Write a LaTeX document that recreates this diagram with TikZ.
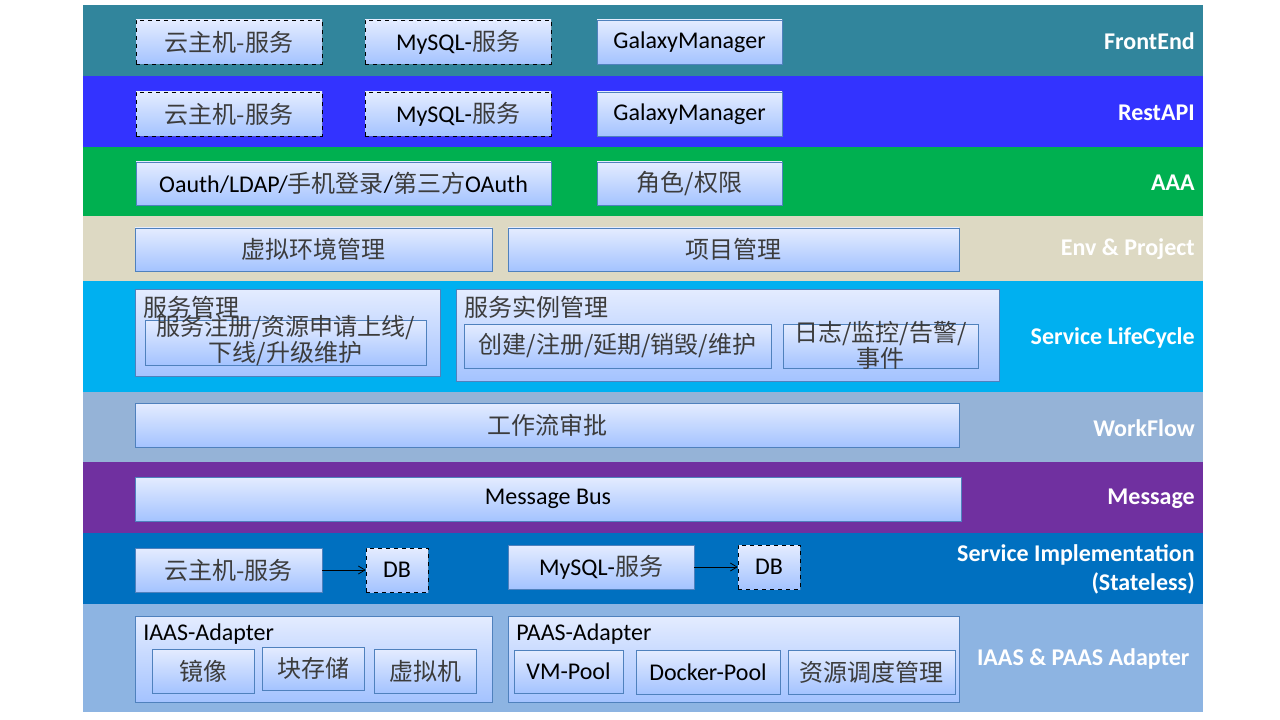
\documentclass[tikz,border=0pt]{standalone}
\usepackage{fontspec}
\setmainfont{Carlito}
\newfontfamily\cjk{Noto Sans CJK SC}
\usetikzlibrary{shadows, arrows.meta}

\def\px{0.75pt}
\definecolor{bandfront}{RGB}{49, 133, 156}
\definecolor{bandrest}{RGB}{51, 51, 255}
\definecolor{bandaaa}{RGB}{0, 176, 80}
\definecolor{bandenv}{RGB}{221, 217, 195}
\definecolor{bandlife}{RGB}{0, 176, 240}
\definecolor{bandflow}{RGB}{149, 179, 215}
\definecolor{bandmsg}{RGB}{112, 48, 160}
\definecolor{bandimpl}{RGB}{0, 112, 192}
\definecolor{bandadapt}{RGB}{141, 180, 226}
\definecolor{boxtop}{RGB}{228, 236, 255}
\definecolor{boxbottom}{RGB}{164, 195, 255}
\definecolor{boxline}{RGB}{79, 129, 189}
\definecolor{cjkgray}{RGB}{60, 60, 60}

\newcommand{\cn}[1]{{\cjk\color{cjkgray}#1}}

\begin{document}
\begin{tikzpicture}[x=\px, y=-\px,
    box/.style={draw = boxline, thin, top color = boxtop, bottom color = boxbottom, inner sep=0pt,
        font=\fontsize{18}{19.5}\selectfont,
        drop shadow={shadow xshift=0.8pt, shadow yshift=-0.8pt, opacity=0.3}},
    stub/.style={box, draw = black, dashed},
    dims/.style 2 args={minimum width = #1*\px, minimum height = #2*\px},
    layer/.style={anchor=east, text = white, align=right, inner sep=0pt, font=\bfseries\fontsize{18}{21.5}\selectfont},
    caption/.style={anchor=west, inner sep=0pt, font=\fontsize{18}{19.5}\selectfont},
    multi/.style={align=center, inner sep=0pt, font=\fontsize{18}{19.5}\selectfont},
    arc/.style={draw, -{Straight Barb[length=5pt, width=6pt]}, semithick, black}
    ]

    \useasboundingbox (0,0) rectangle (1280,720);

    \newcommand{\bands}{
        5/76/bandfront/FrontEnd,
        76/147/bandrest/RestAPI,
        147/216/bandaaa/AAA,
        216/281/bandenv/Env \& Project,
        281/392/bandlife/Service LifeCycle,
        392/462/bandflow/WorkFlow,
        462/533/bandmsg/Message,
        533/604/bandimpl/{Service Implementation\\(Stateless)},
        604/712/bandadapt/IAAS \& PAAS Adapter
    }

    % Define layers
    \foreach [count = \i] \ya/\yb/\col/\name in \bands {
        \fill[\col] (83,\ya) rectangle (1203,\yb);
        \node[layer] (L\i) at (1195,{(\ya+\yb)/2+1}) {\name};
    }

    % FrontEnd and RestAPI
    \node[stub, dims={186}{44}] (fe1) at (229,42) {\cn{云主机-服务}};
    \node[stub, dims={186}{44}] (fe2) at (458,42) {MySQL-\cn{服务}};
    \node[box, dims={185}{44}] (fe3) at (689.5,42) {GalaxyManager};
    \node[stub, dims={186}{44}] (ra1) at (229,114) {\cn{云主机-服务}};
    \node[stub, dims={186}{44}] (ra2) at (458,114) {MySQL-\cn{服务}};
    \node[box, dims={185}{44}] (ra3) at (689.5,114) {GalaxyManager};

    % AAA and Env & Project
    \node[box, dims={415}{43}] (aaa1) at (343.5,183.5) {Oauth/LDAP/\cn{手机登录}/\cn{第三方}OAuth};
    \node[box, dims={185}{43}] (aaa2) at (689.5,183.5) {\cn{角色/权限}};
    \node[box, dims={357}{43}] (env1) at (313.5,249.5) {\cn{虚拟环境管理}};
    \node[box, dims={451}{43}] (env2) at (733.5,249.5) {\cn{项目管理}};

    % Service LifeCycle
    \node[box, dims={305}{87}] (svm) at (287.5,332.5) {};
    \node[caption] (svmlabel) at (143,307) {\cn{服务管理}};
    \node[box, dims={281}{45}] (svmi) at (285.5,342.5) {};
    \node[multi] (svmtext) at (285.5,341) {\cn{服务注册/资源申请上线/}\\\cn{下线/升级维护}};
    \node[box, dims={543}{92}] (sim) at (727.5,335) {};
    \node[caption] (simlabel) at (464,307) {\cn{服务实例管理}};
    \node[box, dims={307}{44}] (sim1) at (617.5,346) {\cn{创建/注册/延期/销毁/维护}};
    \node[box, dims={195}{44}] (sim2) at (880.5,346) {};
    \node[multi] (sim2text) at (880.5,345) {\cn{日志/监控/告警/}\\\cn{事件}};

    % WorkFlow and Message
    \node[box, dims={824}{44}] (wf) at (547,425) {\cn{工作流审批}};
    \node[box, dims={826}{44}] (mb) at (548,499) {Message Bus};

    % Service Implementation
    \node[box, dims={187}{44}] (si1) at (228.5,570) {\cn{云主机-服务}};
    \node[stub, dims={62}{44}] (db1) at (397,570) {DB};
    \node[box, dims={186}{44}] (si2) at (601,567) {MySQL-\cn{服务}};
    \node[stub, dims={62}{44}] (db2) at (769,567) {DB};

    % Adapters
    \node[box, dims={357}{86}] (iaas) at (313.5,659) {};
    \node[caption] (iaaslabel) at (143,634) {IAAS-Adapter};
    \node[box, dims={102}{44}] (im1) at (203,671) {\cn{镜像}};
    \node[box, dims={102}{43}] (im2) at (313,668.5) {\cn{块存储}};
    \node[box, dims={102}{44}] (im3) at (425,671) {\cn{虚拟机}};
    \node[box, dims={451}{86}] (paas) at (733.5,659) {};
    \node[caption] (paaslabel) at (516,634) {PAAS-Adapter};
    \node[box, dims={109}{43}] (pm1) at (568.5,671.5) {VM-Pool};
    \node[box, dims={144}{44}] (pm2) at (708,672) {Docker-Pool};
    \node[box, dims={167}{44}] (pm3) at (871.5,672) {\cn{资源调度管理}};

    % Define edges
    \draw[arc] (si1) -- (db1);
    \draw[arc] (si2) -- (db2);
\end{tikzpicture}
\end{document}
